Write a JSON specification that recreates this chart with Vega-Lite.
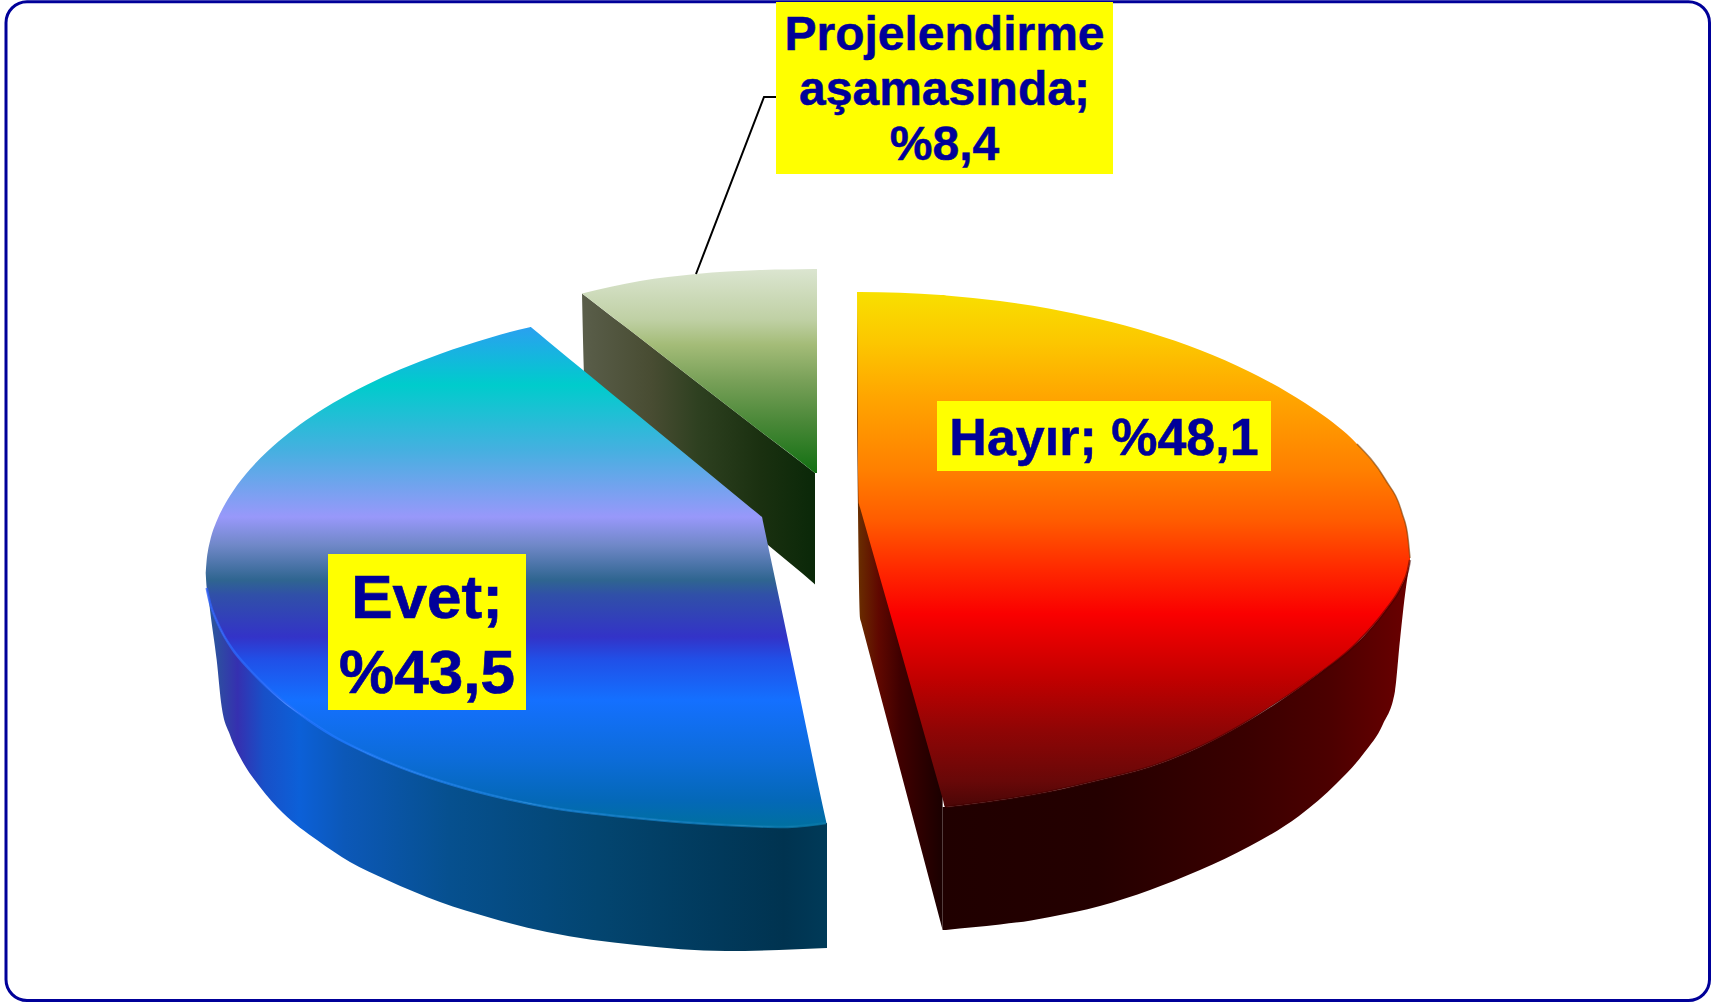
{
"$schema":"https://vega.github.io/schema/vega-lite/v6.json",
"width":1703.5,"height":998.8,"autosize":"none",
"padding":{"left":6,"right":2.5,"top":1.7,"bottom":2.5},
"background":"white",
"config":{"view":{"stroke":"#000099","strokeWidth":3,"cornerRadius":21,"fill":"white"}},
"datasets":{
"greenWall":[{"x":582,"y":293.5,"y2":293.5},{"x":585,"y":295.8,"y2":391},{"x":586,"y":296.6,"y2":391.8},{"x":640,"y":338,"y2":437},{"x":696,"y":381.5,"y2":484},{"x":768,"y":437,"y2":545},{"x":814,"y":472.2,"y2":583.6},{"x":815,"y":473,"y2":584.5}],
"greenTop":[{"x":582,"y":293.5,"y2":293.5},{"x":640,"y":281,"y2":338},{"x":696,"y":274,"y2":381.5},{"x":760,"y":270,"y2":431},{"x":814,"y":269.1,"y2":472.2},{"x":815,"y":269,"y2":473},{"x":817,"y":269,"y2":473}],
"blueSide":[{"x":208.5,"y":597,"y2":597},{"x":210,"y":603,"y2":610},{"x":216.7,"y":621,"y2":660},{"x":221.7,"y":632,"y2":707},{"x":230,"y":645,"y2":735},{"x":240,"y":658,"y2":757},{"x":260,"y":680,"y2":787},{"x":283,"y":702,"y2":813},{"x":317,"y":725,"y2":840},{"x":350,"y":745,"y2":862},{"x":387,"y":762,"y2":880},{"x":440,"y":781,"y2":902},{"x":491,"y":795,"y2":918},{"x":547,"y":807,"y2":932},{"x":636,"y":818,"y2":945},{"x":726,"y":825,"y2":951},{"x":779,"y":827,"y2":950},{"x":827,"y":823,"y2":948}],
"blueTop":[{"x":205.7,"y":573,"y2":573},{"x":206.7,"y":559.7,"y2":588},{"x":208,"y":550.5,"y2":595},{"x":210,"y":541.2,"y2":603},{"x":216.7,"y":521.1,"y2":621},{"x":223,"y":507.8,"y2":634},{"x":233,"y":491.2,"y2":650},{"x":250,"y":469.3,"y2":670},{"x":267,"y":451.8,"y2":687},{"x":279,"y":441.1,"y2":698},{"x":300,"y":424.6,"y2":714},{"x":324,"y":408.6,"y2":730},{"x":333,"y":403.1,"y2":736},{"x":367,"y":384.7,"y2":753},{"x":400,"y":369.5,"y2":767},{"x":440,"y":353.9,"y2":781},{"x":490,"y":337.7,"y2":795},{"x":529.7,"y":327.2,"y2":803.3},{"x":530.7,"y":327,"y2":803.5},{"x":531.7,"y":327.8,"y2":803.7},{"x":547,"y":340.4,"y2":807},{"x":590,"y":375.7,"y2":813},{"x":636,"y":413.5,"y2":818},{"x":726,"y":487.4,"y2":825},{"x":761,"y":516.2,"y2":826.5},{"x":762,"y":517,"y2":826.6},{"x":763,"y":521.7,"y2":826.7},{"x":768,"y":545.4,"y2":826.8},{"x":784,"y":621,"y2":827},{"x":797,"y":683,"y2":826.5},{"x":825.5,"y":818.5,"y2":823.3},{"x":826.5,"y":823,"y2":823}],
"blueRim":[{"x":206.7,"y":588},{"x":210,"y":603},{"x":216.7,"y":621},{"x":223,"y":634},{"x":233,"y":650},{"x":250,"y":670},{"x":267,"y":687},{"x":300,"y":714},{"x":333,"y":736},{"x":367,"y":753},{"x":400,"y":767},{"x":440,"y":781},{"x":490,"y":795},{"x":547,"y":807},{"x":636,"y":818},{"x":726,"y":825},{"x":784,"y":827},{"x":826,"y":823}],
"redWall":[{"x":857,"y":296,"y2":420},{"x":860,"y":400,"y2":618},{"x":861,"y":410,"y2":621.8},{"x":900,"y":590,"y2":769},{"x":942.6,"y":770,"y2":930}],
"redSide":[{"x":942.6,"y":807,"y2":930},{"x":945,"y":807,"y2":930},{"x":946,"y":806.9,"y2":929.9},{"x":1000,"y":800,"y2":924.5},{"x":1031,"y":795,"y2":920.5},{"x":1050,"y":791.5,"y2":917},{"x":1100,"y":780,"y2":906},{"x":1150,"y":767,"y2":890},{"x":1200,"y":747,"y2":870},{"x":1250,"y":720,"y2":846},{"x":1299,"y":688,"y2":816},{"x":1337,"y":659,"y2":783},{"x":1364,"y":636,"y2":753},{"x":1383,"y":613,"y2":724},{"x":1395,"y":596,"y2":691},{"x":1400,"y":588,"y2":640},{"x":1407,"y":572,"y2":580},{"x":1410,"y":560,"y2":562}],
"redTop":[{"x":857,"y":292,"y2":292},{"x":859,"y":292,"y2":504},{"x":860,"y":292,"y2":507.5},{"x":900,"y":292.7,"y2":648},{"x":941,"y":295,"y2":793},{"x":943,"y":295.1,"y2":800},{"x":945,"y":295.3,"y2":807},{"x":946,"y":295.4,"y2":806.9},{"x":1000,"y":301,"y2":800},{"x":1050,"y":308.7,"y2":791.5},{"x":1100,"y":319.2,"y2":780},{"x":1150,"y":332.7,"y2":767},{"x":1200,"y":350,"y2":747},{"x":1250,"y":372,"y2":720},{"x":1267,"y":380.7,"y2":709},{"x":1305,"y":403,"y2":684},{"x":1317,"y":411,"y2":675},{"x":1357,"y":444,"y2":643},{"x":1385,"y":479,"y2":611},{"x":1402,"y":513,"y2":585},{"x":1408,"y":538,"y2":570},{"x":1410,"y":558,"y2":560}],
"redEdgeUpper":[{"x":1357,"y":444},{"x":1385,"y":479},{"x":1402,"y":513},{"x":1408,"y":538},{"x":1410,"y":558}],
"redEdgeLower":[{"x":946,"y":806.9},{"x":1000,"y":800},{"x":1050,"y":791.5},{"x":1100,"y":780},{"x":1150,"y":767},{"x":1200,"y":747},{"x":1250,"y":720},{"x":1305,"y":684},{"x":1357,"y":643},{"x":1385,"y":611},{"x":1402,"y":585},{"x":1408,"y":570},{"x":1410,"y":560}],
"leader":[{"x":696,"y":274},{"x":764,"y":97},{"x":776,"y":97}],
"boxes":[{"category":"Projelendirme aşamasında","x":776,"x2":1113,"y":2,"y2":174},{"category":"Hayır","x":937,"x2":1271,"y":401,"y2":471},{"category":"Evet","x":328,"x2":526,"y":554,"y2":710}],
"labels":[{"line":"Projelendirme","x":944.5,"y":50,"s":"small"},{"line":"aşamasında;","x":944.5,"y":105,"s":"small"},{"line":"%8,4","x":944.5,"y":160,"s":"small"},{"line":"Hayır; %48,1","x":1104,"y":454.5,"s":"mid"},{"line":"Evet;","x":427,"y":618,"s":"big"},{"line":"%43,5","x":427,"y":692.5,"s":"big"}]
},
"data":{"name":"greenWall"},
"encoding":{
"x":{"field":"x","type":"quantitative","scale":{"domain":[6,1709.5],"nice":false,"zero":false},"axis":null},
"y":{"field":"y","type":"quantitative","scale":{"domain":[1000.5,1.7],"nice":false,"zero":false},"axis":null}
},
"layer":[
{"data":{"name":"greenWall"},"mark":{"type":"area","orient":"vertical","interpolate":"monotone","color":{"gradient":"linear","x1":0,"y1":0,"x2":1,"y2":0,"stops":[{"offset":0,"color":"#5a5e4a"},{"offset":0.3,"color":"#484c32"},{"offset":0.5,"color":"#2e4020"},{"offset":0.77,"color":"#1a3010"},{"offset":1,"color":"#0a2808"}]}},"encoding":{"y2":{"field":"y2"}}},
{"data":{"name":"greenTop"},"mark":{"type":"area","orient":"vertical","interpolate":"monotone","color":{"gradient":"linear","x1":0,"y1":0,"x2":0,"y2":1,"stops":[{"offset":0,"color":"#dbe5d0"},{"offset":0.25,"color":"#bfd0a4"},{"offset":0.37,"color":"#a4bc78"},{"offset":0.55,"color":"#78a058"},{"offset":0.75,"color":"#4a8838"},{"offset":1,"color":"#127012"}]}},"encoding":{"y2":{"field":"y2"}}},
{"data":{"name":"blueSide"},"mark":{"type":"area","orient":"vertical","interpolate":"monotone","color":{"gradient":"linear","x1":0,"y1":0,"x2":1,"y2":0,"stops":[{"offset":0,"color":"#2a5a9a"},{"offset":0.047,"color":"#3530b0"},{"offset":0.09,"color":"#1850c8"},{"offset":0.147,"color":"#0c60d8"},{"offset":0.22,"color":"#0c58b8"},{"offset":0.39,"color":"#06508f"},{"offset":0.63,"color":"#034570"},{"offset":0.93,"color":"#003350"},{"offset":1,"color":"#003a58"}]}},"encoding":{"y2":{"field":"y2"}}},
{"data":{"name":"blueTop"},"mark":{"type":"area","orient":"vertical","interpolate":"monotone","color":{"gradient":"linear","x1":0,"y1":0,"x2":0,"y2":1,"stops":[{"offset":0,"color":"#2aa0f0"},{"offset":0.116,"color":"#00cccc"},{"offset":0.246,"color":"#45b0e0"},{"offset":0.38,"color":"#9898fa"},{"offset":0.436,"color":"#7088c8"},{"offset":0.506,"color":"#2f6590"},{"offset":0.536,"color":"#3050a8"},{"offset":0.62,"color":"#3333c8"},{"offset":0.666,"color":"#2050e8"},{"offset":0.746,"color":"#1470ff"},{"offset":0.866,"color":"#0c6cd8"},{"offset":0.946,"color":"#0468b8"},{"offset":1,"color":"#0070a0"}]}},"encoding":{"y2":{"field":"y2"}}},
{"data":{"name":"blueRim"},"mark":{"type":"line","interpolate":"monotone","strokeWidth":2.5,"opacity":0.8,"stroke":{"gradient":"linear","x1":0,"y1":0,"x2":1,"y2":0,"stops":[{"offset":0,"color":"#3060f8"},{"offset":0.2,"color":"#1f78ff"},{"offset":0.5,"color":"#1880d8"},{"offset":1,"color":"#0878a8"}]}}},
{"data":{"name":"redWall"},"mark":{"type":"area","orient":"vertical","interpolate":"monotone","color":{"gradient":"linear","x1":0,"y1":0,"x2":1,"y2":0,"stops":[{"offset":0,"color":"#6a3000"},{"offset":0.25,"color":"#600800"},{"offset":0.5,"color":"#400000"},{"offset":1,"color":"#1a0000"}]}},"encoding":{"y2":{"field":"y2"}}},
{"data":{"name":"redSide"},"mark":{"type":"area","orient":"vertical","interpolate":"monotone","color":{"gradient":"linear","x1":0,"y1":0,"x2":1,"y2":0,"stops":[{"offset":0,"color":"#200000"},{"offset":0.33,"color":"#240000"},{"offset":0.65,"color":"#3a0000"},{"offset":0.83,"color":"#4c0000"},{"offset":1,"color":"#6a0000"}]}},"encoding":{"y2":{"field":"y2"}}},
{"data":{"name":"redTop"},"mark":{"type":"area","orient":"vertical","interpolate":"monotone","color":{"gradient":"linear","x1":0,"y1":0,"x2":0,"y2":1,"stops":[{"offset":0,"color":"#f8e000"},{"offset":0.093,"color":"#fcc800"},{"offset":0.208,"color":"#ffa400"},{"offset":0.345,"color":"#ff8000"},{"offset":0.443,"color":"#ff5c00"},{"offset":0.54,"color":"#ff2800"},{"offset":0.625,"color":"#fa0000"},{"offset":0.753,"color":"#c00000"},{"offset":0.85,"color":"#900505"},{"offset":0.95,"color":"#680808"},{"offset":1,"color":"#4a0606"}]}},"encoding":{"y2":{"field":"y2"}}},
{"data":{"name":"redEdgeUpper"},"mark":{"type":"line","interpolate":"monotone","color":"#7a3a00","strokeWidth":1.5,"opacity":0.6}},
{"data":{"name":"redEdgeLower"},"mark":{"type":"line","interpolate":"monotone","color":"#400000","strokeWidth":2.5,"opacity":0.5}},
{"data":{"name":"leader"},"mark":{"type":"line","color":"#000000","strokeWidth":2}},
{"data":{"name":"boxes"},"mark":{"type":"rect","color":"#ffff00"},"encoding":{"x2":{"field":"x2"},"y2":{"field":"y2"}}},
{"data":{"name":"labels"},"transform":[{"filter":"datum.s=='small'"}],"mark":{"type":"text","font":"Liberation Sans","fontWeight":"bold","fontSize":48,"fill":"#000099","stroke":"#000099","strokeWidth":0.5,"align":"center","baseline":"alphabetic"},"encoding":{"text":{"field":"line"}}},
{"data":{"name":"labels"},"transform":[{"filter":"datum.s=='mid'"}],"mark":{"type":"text","font":"Liberation Sans","fontWeight":"bold","fontSize":52,"fill":"#000099","stroke":"#000099","strokeWidth":0.5,"align":"center","baseline":"alphabetic"},"encoding":{"text":{"field":"line"}}},
{"data":{"name":"labels"},"transform":[{"filter":"datum.s=='big'"}],"mark":{"type":"text","font":"Liberation Sans","fontWeight":"bold","fontSize":62,"fill":"#000099","stroke":"#000099","strokeWidth":0.7,"align":"center","baseline":"alphabetic"},"encoding":{"text":{"field":"line"}}}
]
}
